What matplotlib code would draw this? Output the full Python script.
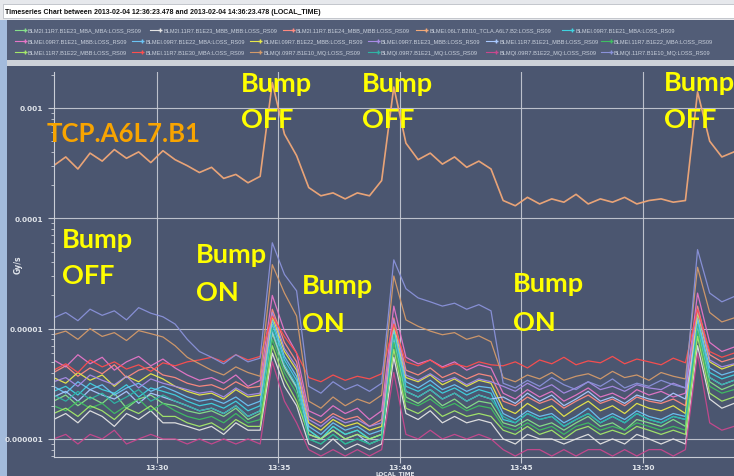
import matplotlib
matplotlib.use("Agg")
import matplotlib.pyplot as plt
import matplotlib.dates as mdates
import numpy as np
import pandas as pd
from matplotlib.lines import Line2D
from matplotlib.patches import Rectangle
from matplotlib.ticker import FuncFormatter, LogLocator, NullFormatter

TITLE = ("Timeseries Chart between 2013-02-04 12:36:23.478 and "
         "2013-02-04 14:36:23.478 (LOCAL_TIME)")

# one reading every 30 s
times = pd.date_range("2013-02-04 13:25:45", periods=57, freq="30s")

# losses, in units of 1e-7 Gy/s
e23_mba_mba = [22, 25, 20, 24, 21, 26, 19, 23, 25, 21, 20, 18, 17, 18, 16, 19, 15, 17, 90, 44, 29,
               12, 10, 13, 11, 12, 10, 11, 80, 24, 21, 25, 20, 23, 19, 22, 21,
               14, 13, 15, 13, 14, 12, 14, 16, 13, 14, 12, 15, 14, 13, 15, 13, 100, 33, 28, 31]
e23_mbb_mbb = [15, 17, 14, 18, 16, 13, 17, 15, 18, 14, 14, 13, 12, 13, 11, 14, 12, 12, 60, 30, 20,
               9, 8, 10, 8, 9, 8, 9, 55, 17, 15, 18, 14, 16, 14, 15, 14,
               10, 9, 11, 10, 10, 9, 10, 11, 9, 10, 9, 11, 10, 9, 10, 9, 70, 23, 19, 21]
e24_mbb_mbb = [40, 46, 37, 44, 39, 47, 36, 42, 45, 38, 36, 32, 30, 31, 28, 33, 29, 30, 150, 75, 50,
               16, 14, 17, 15, 16, 13, 15, 125, 42, 38, 44, 36, 40, 35, 39, 37,
               22, 20, 24, 21, 23, 19, 22, 25, 21, 23, 20, 24, 22, 21, 23, 20, 160, 58, 50, 54]
tcla_a6l7 = [3000, 3600, 2800, 3900, 3300, 4200, 3500, 4000, 3200, 4100, 3400, 3000, 2600,
             2900, 2300, 2500, 2100, 2400, 17000, 5800, 3700,
             1900, 1600, 1700, 1500, 1700, 1600, 2200, 15500,
             4800, 3400, 3900, 3100, 3600, 2900, 3300, 2800,
             1450, 1300, 1550, 1350, 1500, 1400, 1650, 1350, 1500, 1400, 1550, 1350, 1450, 1500,
             1400, 1450, 14000, 5000, 3600, 4000]
e09_e21_mba = [27, 30, 25, 32, 28, 26, 31, 24, 29, 27, 25, 22, 20, 21, 19, 22, 18, 20, 110, 52, 34,
               12, 10, 13, 11, 12, 10, 11, 95, 30, 27, 31, 26, 29, 25, 28, 26,
               15, 14, 17, 15, 16, 13, 15, 17, 14, 16, 14, 17, 15, 14, 16, 15, 120, 40, 35, 38]
e09_e21_mbb = [52, 45, 58, 48, 55, 42, 50, 56, 46, 53, 44, 38, 34, 36, 32, 38, 30, 34, 200, 95, 60,
               18, 16, 20, 17, 19, 15, 18, 160, 55, 48, 52, 45, 50, 42, 47, 44,
               26, 23, 28, 24, 27, 22, 25, 29, 24, 26, 23, 28, 25, 27, 24, 26, 210, 75, 62, 68]
e09_e22_mba = [30, 26, 33, 28, 31, 25, 29, 32, 27, 30, 27, 24, 22, 23, 21, 24, 20, 22, 120, 56, 37,
               13, 11, 14, 12, 13, 11, 12, 100, 33, 29, 34, 28, 31, 27, 30, 29,
               17, 15, 18, 16, 17, 14, 16, 19, 15, 17, 15, 18, 16, 15, 17, 16, 125, 44, 38, 41]
e09_e22_mbb = [36, 32, 40, 34, 38, 30, 37, 33, 39, 35, 30, 27, 25, 26, 23, 28, 24, 25, 130, 62, 42,
               14, 12, 15, 13, 14, 12, 13, 110, 36, 33, 38, 31, 35, 30, 34, 32,
               19, 17, 21, 18, 20, 16, 19, 22, 18, 20, 17, 21, 19, 18, 20, 17, 140, 50, 43, 47]
e09_e23_mbb = [33, 36, 30, 38, 34, 31, 37, 29, 35, 32, 30, 28, 26, 27, 24, 29, 25, 26, 140, 66, 45,
               15, 13, 16, 14, 15, 13, 14, 120, 38, 34, 39, 33, 36, 31, 35, 33,
               30, 27, 32, 28, 31, 26, 29, 33, 28, 30, 27, 31, 29, 28, 32, 29, 150, 52, 45, 48]
e11_e21_mbb = [24, 27, 22, 28, 25, 23, 27, 21, 26, 24, 22, 20, 18, 19, 17, 20, 16, 18, 95, 46, 30,
               11, 10, 12, 10, 11, 9, 10, 85, 27, 24, 28, 23, 26, 22, 25, 23,
               24, 21, 26, 22, 25, 20, 23, 27, 22, 24, 21, 25, 23, 22, 26, 23, 110, 36, 31, 34]
e11_e22_mba = [20, 18, 22, 19, 21, 17, 20, 23, 18, 21, 18, 16, 15, 16, 14, 17, 14, 15, 80, 40, 26,
               10, 9, 11, 9, 10, 9, 10, 75, 22, 20, 23, 19, 21, 18, 20, 19,
               13, 12, 14, 12, 13, 11, 13, 14, 12, 13, 12, 14, 13, 12, 13, 12, 95, 30, 26, 28]
e11_e22_mbb = [17, 19, 16, 20, 18, 15, 19, 17, 20, 16, 16, 14, 13, 14, 12, 15, 13, 13, 70, 35, 22,
               11, 10, 12, 10, 11, 10, 11, 65, 19, 17, 20, 16, 18, 16, 17, 16,
               12, 11, 13, 11, 12, 10, 12, 13, 11, 12, 11, 13, 12, 11, 12, 11, 85, 26, 22, 24]
e11_e30_mba = [42, 48, 40, 52, 45, 50, 43, 47, 41, 49, 46, 50, 52, 55, 50, 58, 52, 56, 130, 85, 60,
               36, 33, 38, 34, 37, 35, 39, 110, 50, 46, 52, 44, 48, 45, 50, 47,
               46, 50, 44, 52, 48, 55, 47, 51, 49, 56, 48, 53, 50, 47, 54, 49, 150, 62, 55, 60]
mq09_e10 = [88, 95, 80, 100, 85, 92, 78, 96, 90, 84, 70, 55, 48, 42, 38, 45, 40, 37, 380, 210, 130,
            22, 19, 24, 20, 23, 21, 25, 300, 120, 105, 95, 88, 92, 80, 86, 76,
            36, 33, 38, 35, 40, 34, 37, 39, 35, 41, 36, 38, 34, 40, 37, 35, 360, 140, 115, 125]
mq09_e21 = [25, 22, 27, 23, 26, 21, 24, 28, 22, 25, 22, 20, 18, 19, 17, 20, 16, 18, 100, 48, 31,
            10, 9, 11, 9, 10, 9, 10, 88, 27, 24, 28, 23, 26, 22, 25, 23,
            16, 14, 17, 15, 16, 13, 15, 17, 14, 16, 14, 17, 15, 14, 16, 15, 110, 36, 31, 34]
mq09_e22 = [10, 11, 9, 11, 10, 12, 9, 10, 11, 10, 10, 9, 10, 9, 10, 9, 10, 9, 50, 22, 14,
            8, 7, 8, 7, 8, 7, 8, 40, 11, 10, 12, 10, 11, 10, 11, 10,
            8, 7, 8, 8, 7, 8, 7, 8, 8, 7, 8, 7, 8, 8, 7, 8, 60, 14, 12, 13]
mq11_e10 = [125, 140, 118, 150, 132, 145, 120, 155, 138, 128, 110, 80, 62, 55, 48, 58, 50, 54,
            600, 310, 220, 30, 26, 33, 28, 31, 27, 32, 420,
            230, 190, 175, 160, 170, 150, 165, 145,
            32, 29, 34, 30, 36, 31, 28, 33, 30, 35, 29, 32, 30, 34, 31, 29, 520, 210, 175, 195]
UNIT = 1e-7

series = [
    ("BLM2I.11R7.B1E23_MBA_MBA:LOSS_RS09", e23_mba_mba, "#86e08a"),
    ("BLM2I.11R7.B1E23_MBB_MBB:LOSS_RS09", e23_mbb_mbb, "#e4e4e4"),
    ("BLM2I.11R7.B1E24_MBB_MBB:LOSS_RS09", e24_mbb_mbb, "#ff8a80"),
    ("BLMEI.06L7.B2I10_TCLA.A6L7.B2:LOSS_RS09", tcla_a6l7, "#f2a878"),
    ("BLMEI.09R7.B1E21_MBA:LOSS_RS09", e09_e21_mba, "#3fd3e0"),
    ("BLMEI.09R7.B1E21_MBB:LOSS_RS09", e09_e21_mbb, "#e676c8"),
    ("BLMEI.09R7.B1E22_MBA:LOSS_RS09", e09_e22_mba, "#6cc4f4"),
    ("BLMEI.09R7.B1E22_MBB:LOSS_RS09", e09_e22_mbb, "#e8e84a"),
    ("BLMEI.09R7.B1E23_MBB:LOSS_RS09", e09_e23_mbb, "#a88be6"),
    ("BLMEI.11R7.B1E21_MBB:LOSS_RS09", e11_e21_mbb, "#a9c9ff"),
    ("BLMEI.11R7.B1E22_MBA:LOSS_RS09", e11_e22_mba, "#3fbf62"),
    ("BLMEI.11R7.B1E22_MBB:LOSS_RS09", e11_e22_mbb, "#a4e86a"),
    ("BLMEI.11R7.B1E30_MBA:LOSS_RS09", e11_e30_mba, "#ff4e4e"),
    ("BLMQI.09R7.B1E10_MQ:LOSS_RS09", mq09_e10, "#d49a6a"),
    ("BLMQI.09R7.B1E21_MQ:LOSS_RS09", mq09_e21, "#2fb5a5"),
    ("BLMQI.09R7.B1E22_MQ:LOSS_RS09", mq09_e22, "#c8488e"),
    ("BLMQI.11R7.B1E10_MQ:LOSS_RS09", mq11_e10, "#8a92da"),
]

# yellow notes pasted over the screenshot: (text lines, left px, baselines px)
notes = [
    (["Bump", "OFF"], 241, [92, 128.5]),
    (["Bump", "OFF"], 362, [92, 128.5]),
    (["Bump", "OFF"], 664, [91, 128.5]),
    (["Bump", "OFF"], 62, [248, 284]),
    (["Bump", "ON"], 196, [263, 301.5]),
    (["Bump", "ON"], 302, [294.5, 332.5]),
    (["Bump", "ON"], 513, [292, 331]),
]

W, H = 734, 477
BG = "#4b5670"
LIGHT = "#c9cdd6"
NARROW = ["Liberation Sans", "DejaVu Sans"]


def fx(x):
    return x / W


def fy(y):
    return 1 - y / H


def decimal_label(v, pos):
    digits = max(0, -int(round(np.log10(v))))
    return f"{v:.{digits}f}"


fig = plt.figure(figsize=(W / 100, H / 100), dpi=100)
fig.patch.set_facecolor(BG)

# window chrome
fig.patches.extend([
    Rectangle((0, fy(21)), 1, 21 / H, transform=fig.transFigure, fc="#e6e8ec", ec="none", zorder=-2),
    Rectangle((fx(3), fy(19)), 1, 14 / H, transform=fig.transFigure, fc="white", ec="#b0b4bc",
              lw=0.5, zorder=-2),
    Rectangle((fx(7), fy(61)), 1, 40 / H, transform=fig.transFigure, fc="#525d77", ec="none", zorder=-2),
    Rectangle((fx(7), fy(67)), 1, 6 / H, transform=fig.transFigure, fc="#cdd1d8", ec="none", zorder=-2),
    Rectangle((0, 0), fx(7), fy(21), transform=fig.transFigure, fc="#a3bbdc", ec="none", zorder=-2),
])
fig.text(fx(5), fy(12.5), TITLE, fontsize=5.0, va="center", color="#111111",
         family=NARROW, fontweight="bold")

# legend, three rows
rows = [(31, [20, 155, 288, 421, 567]),
        (42, [20, 137, 255, 373, 491, 606]),
        (53, [20, 137, 255, 373, 491, 606])]
k = 0
for y, xs in rows:
    for x in xs:
        name, _, color = series[k]
        fig.add_artist(Line2D([fx(x - 5), fx(x + 5)], [fy(y), fy(y)], transform=fig.transFigure,
                              color=color, lw=0.8, marker="+", markersize=3, markevery=[1]))
        fig.text(fx(x + 8), fy(y), name, fontsize=4.1, va="center", color="#c9d0dc",
                 family=NARROW)
        k += 1

ax = fig.add_axes([fx(54), fy(458), 1 - fx(54), (458 - 73) / H])
ax.set_facecolor(BG)
for name, vals, color in series:
    lw = 1.2 if vals is tcla_a6l7 else 0.9
    ax.plot(times, np.array(vals) * UNIT, color=color, lw=lw, alpha=0.95)

ax.set_yscale("log")
ax.set_ylim(6.86e-7, 2.12e-3)
ax.set_xlim(pd.Timestamp("2013-02-04 13:25:46"), pd.Timestamp("2013-02-04 13:53:45"))
ax.yaxis.set_major_locator(LogLocator(base=10))
ax.yaxis.set_minor_locator(LogLocator(base=10, subs=np.arange(2, 10)))
ax.yaxis.set_major_formatter(FuncFormatter(decimal_label))
ax.yaxis.set_minor_formatter(NullFormatter())
ax.xaxis.set_major_locator(mdates.MinuteLocator(byminute=range(0, 60, 5)))
ax.xaxis.set_major_formatter(mdates.DateFormatter("%H:%M"))

ax.grid(True, which="major", color=LIGHT, lw=0.8, alpha=0.9)
for side in ["top", "right"]:
    ax.spines[side].set_visible(False)
for side in ["left", "bottom"]:
    ax.spines[side].set_color(LIGHT)
ax.tick_params(which="both", direction="out", colors=LIGHT, labelcolor="#e0e4ea", labelsize=5.3)
ax.tick_params(which="major", length=4)
ax.tick_params(which="minor", length=2)
ax.tick_params(axis="x", pad=1)
for lab in ax.get_xticklabels() + ax.get_yticklabels():
    lab.set_fontweight("bold")

fig.text(fx(18), fy(265), "Gy/s", rotation=90, fontsize=5.5, color="#e0e4ea",
         ha="center", va="center", fontweight="bold")
fig.text(fx(395), fy(477), "LOCAL_TIME", fontsize=4.2, color="#e0e4ea",
         ha="center", va="bottom", fontweight="bold")

for lines, x, baselines in notes:
    for txt, b in zip(lines, baselines):
        fig.text(fx(x), fy(b), txt, fontsize=19.5, color="#ffff00", family="Lato",
                 fontweight="bold", va="baseline", ha="left")
fig.text(fx(47), fy(142), "TCP.A6L7.B1", fontsize=18.5, color="#f8a400", family="Lato",
         fontweight="bold", va="baseline", ha="left")

fig.savefig("out.png", dpi=100, facecolor=fig.get_facecolor())
